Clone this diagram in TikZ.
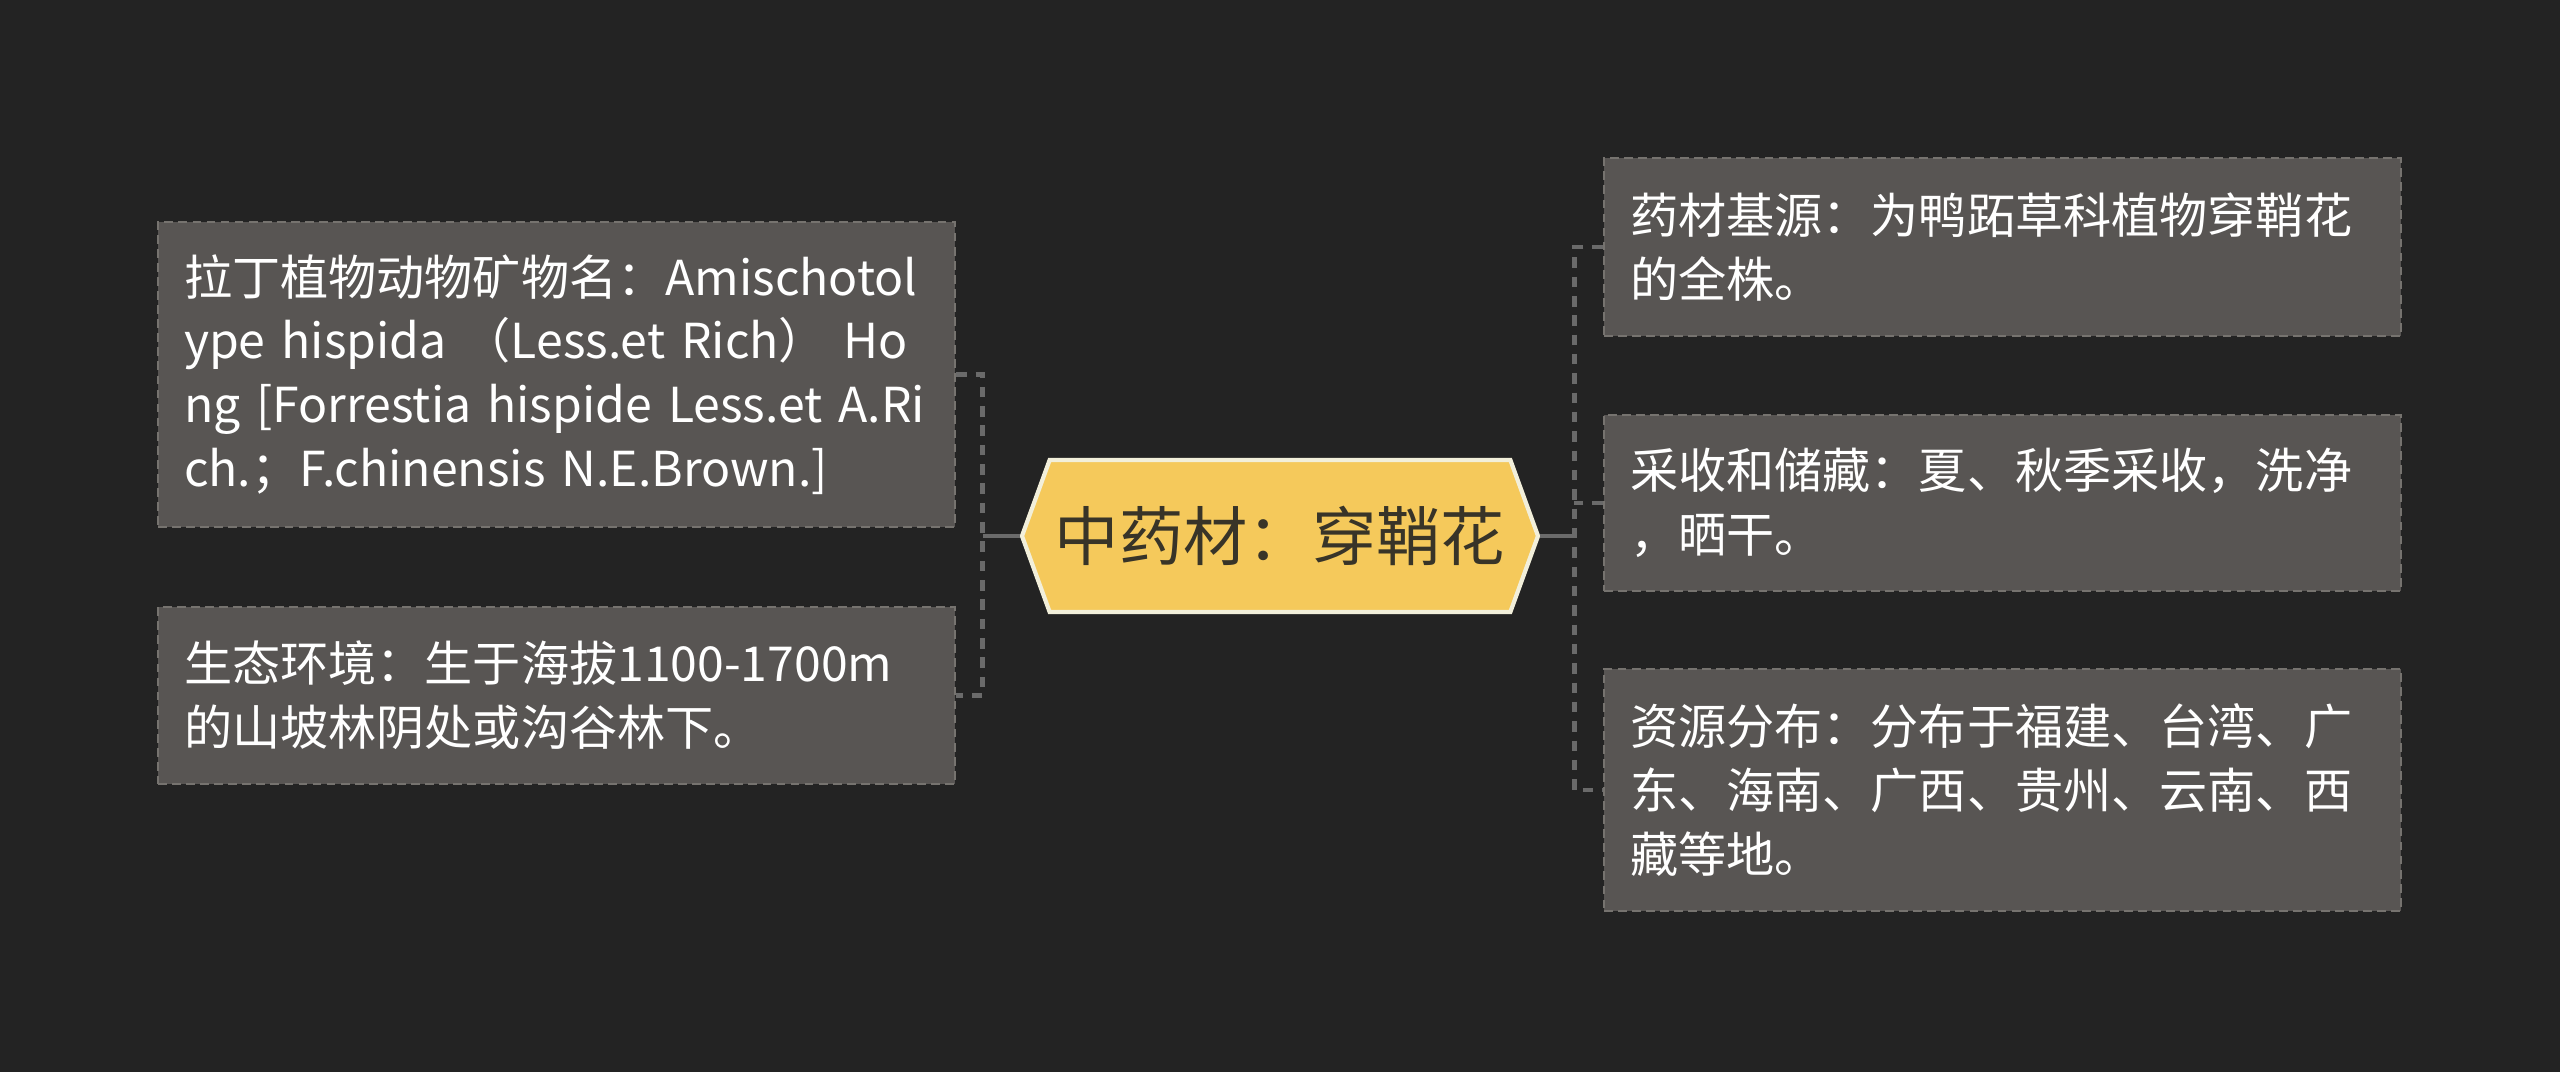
\documentclass[tikz,border=0pt]{standalone}
\usepackage{fontspec}
\setmainfont{Noto Sans CJK SC}
\usetikzlibrary{positioning,shapes.symbols}
\definecolor{canvas}{HTML}{232323}
\definecolor{leaffill}{HTML}{585553}
\definecolor{leafline}{HTML}{76736F}
\definecolor{hubfill}{HTML}{F5C95B}
\definecolor{hubline}{HTML}{F2EFDA}
\definecolor{hubtext}{HTML}{383428}
\definecolor{wire}{HTML}{6A6A6A}

\begin{document}
\begin{tikzpicture}[node distance=2cm,on grid,
  leaf/.style={draw=leafline,dash pattern=on 2.5pt off 1.5pt,line width=0.8pt,
    fill=leaffill,text=white,minimum width=7.97cm,text width=7.45cm,
    inner xsep=0.26cm,align=left,font=\fontsize{13.7pt}{18.1pt}\selectfont},
  hub/.style={signal,signal to=west and east,signal pointer angle=140,
    draw=hubline,line width=1.2pt,fill=hubfill,text=hubtext,
    minimum width=5.16cm,minimum height=1.52cm,inner xsep=0pt,
    font=\fontsize{18.3pt}{22pt}\selectfont},
  link/.style={draw=wire,line width=1.3pt},
  bracket/.style={draw=wire,line width=1.3pt,dash pattern=on 3pt off 2.5pt}]
\fill[canvas] (0,0) rectangle (25.6,-10.72);
\useasboundingbox (0,0) rectangle (25.6,-10.72);

\node[hub] (hub) at (12.8,-5.36) {中药材：穿鞘花};
\node[leaf,minimum height=3.05cm] (latin) [above left=1.615cm and 7.235cm of hub]
  {拉丁植物动物矿物名：Amischotol\\ype hispida （Less.et Rich） Ho\\ng [Forrestia hispide Less.et A.Ri\\ch.；F.chinensis N.E.Brown.]};
\node[leaf,minimum height=1.77cm] (habitat) [below left=1.595cm and 7.235cm of hub]
  {生态环境：生于海拔1100-1700m\\的山坡林阴处或沟谷林下。};
\node[leaf,minimum height=1.78cm] (origin) [above right=2.89cm and 7.225cm of hub]
  {药材基源：为鸭跖草科植物穿鞘花\\的全株。};
\node[leaf,minimum height=1.76cm] (harvest) [above right=0.33cm and 7.225cm of hub]
  {采收和储藏：夏、秋季采收，洗净\\，晒干。};
\node[leaf,minimum height=2.42cm] (range) [below right=2.54cm and 7.225cm of hub]
  {资源分布：分布于福建、台湾、广\\东、海南、广西、贵州、云南、西\\藏等地。};

\draw[link] (hub.west) -- ++(-0.37,0) coordinate (lj);
\draw[link] (hub.east) -- ++(0.34,0) coordinate (rj);
\draw[bracket] (latin.east) -| (lj) |- (habitat.east);
\draw[bracket] (origin.west) -| (rj) |- (range.west);
\draw[bracket] (harvest.west) -- (harvest.west -| rj);
\end{tikzpicture}
\end{document}
